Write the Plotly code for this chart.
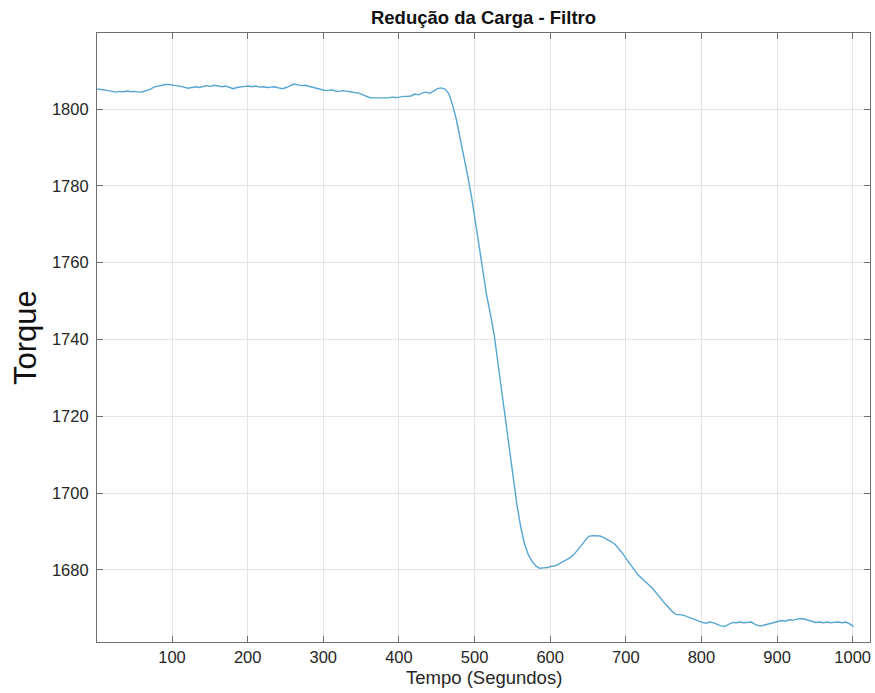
import numpy as np
import plotly.graph_objects as go

# Sample times (s), one reading every 5 seconds
tempo = np.arange(1, 1002, 5)

# Filtered torque readings
torque = [
    1805.2, 1805.1, 1805.0, 1804.8, 1804.6, 1804.4, 1804.6, 1804.5, 1804.7, 1804.5,
    1804.6, 1804.4, 1804.5, 1804.8, 1805.1, 1805.7, 1806.0, 1806.2, 1806.4, 1806.4,
    1806.3, 1806.1, 1805.9, 1805.7, 1805.4, 1805.6, 1805.8, 1805.6, 1805.9, 1806.1,
    1805.9, 1806.2, 1806.0, 1805.8, 1806.0, 1805.6, 1805.3, 1805.6, 1805.8, 1805.9,
    1806.0, 1805.8, 1806.0, 1805.7, 1805.8, 1805.6, 1805.7, 1805.8, 1805.5, 1805.3,
    1805.6, 1806.1, 1806.5, 1806.3, 1806.1, 1806.2, 1805.9, 1805.6, 1805.3, 1805.0,
    1804.9, 1804.8, 1805.0, 1804.7, 1804.6, 1804.8, 1804.6, 1804.4, 1804.3, 1804.2,
    1803.8, 1803.3, 1803.0, 1802.9, 1802.9, 1803.0, 1802.9, 1802.9, 1803.1, 1803.0,
    1803.1, 1803.3, 1803.3, 1803.4, 1803.9, 1803.7, 1804.2, 1804.4, 1804.1, 1804.8,
    1805.3, 1805.5, 1805.2, 1804.0, 1801.0, 1797.2, 1792.5, 1787.8, 1782.5, 1777.2,
    1771.0, 1764.5, 1757.6, 1751.5, 1746.5, 1741.2, 1733.8, 1726.5, 1719.3, 1711.5,
    1703.8, 1697.0, 1691.2, 1686.8, 1684.0, 1682.2, 1681.0, 1680.4, 1680.5, 1680.6,
    1680.9, 1681.0, 1681.5, 1682.0, 1682.5, 1683.1, 1683.9, 1685.0, 1686.3, 1687.6,
    1688.7, 1688.9, 1688.9, 1688.8, 1688.4, 1687.9, 1687.3, 1686.6, 1685.5, 1684.2,
    1682.8, 1681.5, 1680.0, 1678.7, 1677.8, 1677.0, 1676.0, 1675.0, 1673.7, 1672.4,
    1671.4, 1670.3, 1669.2, 1668.4, 1668.3, 1668.2, 1667.8, 1667.4, 1667.0, 1666.6,
    1666.3, 1666.1, 1666.4, 1666.2, 1665.7, 1665.4, 1665.3, 1665.8, 1666.3, 1666.2,
    1666.4, 1666.2, 1666.3, 1666.4, 1665.8, 1665.4, 1665.5, 1665.8, 1665.9, 1666.3,
    1666.7, 1666.8, 1666.6, 1667.0, 1666.9, 1667.1, 1667.3, 1667.2, 1666.9, 1666.6,
    1666.3, 1666.4, 1666.2, 1666.4, 1666.2, 1666.3, 1666.4, 1666.2, 1666.4, 1665.9,
    1665.2,
]

x_ticks = [100, 200, 300, 400, 500, 600, 700, 800, 900, 1000]
y_ticks = [1680, 1700, 1720, 1740, 1760, 1780, 1800]

FONT = "Liberation Sans, Arial, Helvetica, sans-serif"
AXIS_COLOR = "#6e6e6e"
GRID_COLOR = "#e4e4e4"

fig = go.Figure(
    go.Scatter(
        x=tempo,
        y=torque,
        mode="lines",
        line=dict(color="#55a6d3", width=1.4),
        hoverinfo="x+y",
    )
)

axis_common = dict(
    showgrid=True,
    gridcolor=GRID_COLOR,
    gridwidth=1,
    zeroline=False,
    showline=True,
    linecolor=AXIS_COLOR,
    linewidth=1.2,
    mirror="allticks",
    ticks="inside",
    ticklen=6,
    tickwidth=1,
    tickcolor=AXIS_COLOR,
    tickfont=dict(family=FONT, size=16.5, color="#262626"),
)

fig.update_xaxes(
    range=[0.8, 1022.9],
    tickvals=x_ticks,
    ticklabelstandoff=0,
    **axis_common,
)
fig.update_yaxes(
    range=[1661.2, 1819.8],
    tickvals=y_ticks,
    ticklabelstandoff=4,
    **axis_common,
)

fig.update_layout(
    width=875,
    height=693,
    margin=dict(l=97, r=5, t=33, b=51),
    paper_bgcolor="white",
    plot_bgcolor="white",
    showlegend=False,
    title=dict(
        text="<b>Redução da Carga - Filtro</b>",
        font=dict(family=FONT, size=18.5, color="#111111"),
        x=0.5,
        xref="paper",
        xanchor="center",
        y=1 - 18 / 693,
        yref="container",
        yanchor="middle",
    ),
    annotations=[
        dict(
            text="Tempo (Segundos)",
            xref="paper",
            yref="paper",
            x=0.5,
            y=-0.0586,
            xanchor="center",
            yanchor="middle",
            showarrow=False,
            font=dict(family=FONT, size=18.5, color="#262626"),
        ),
        dict(
            text="Torque",
            xref="paper",
            yref="paper",
            x=-0.0925,
            y=0.5,
            xanchor="center",
            yanchor="middle",
            textangle=-90,
            showarrow=False,
            font=dict(family=FONT, size=31, color="#111111"),
        ),
    ],
)

fig.write_html("out.html")
